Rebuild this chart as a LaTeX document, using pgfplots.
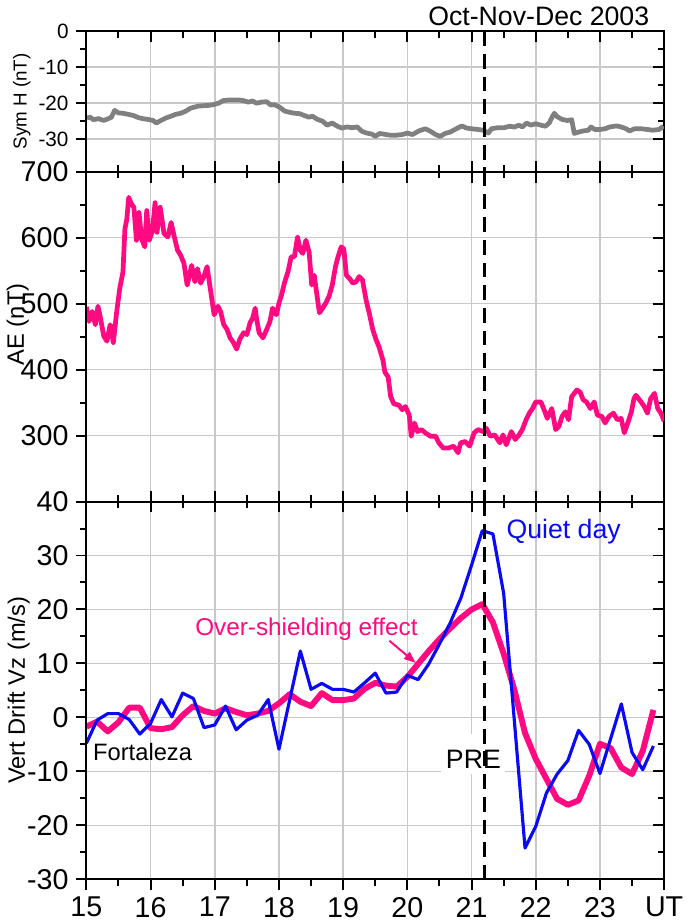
\documentclass[border=0pt]{standalone}
\usepackage{fontspec}
\setmainfont{Liberation Sans}
\usepackage{pgfplots}
\pgfplotsset{compat=1.18}
\usetikzlibrary{arrows.meta}
\definecolor{rosa}{HTML}{FF0A80}
\definecolor{azul}{HTML}{0A0AF5}
\definecolor{cinza}{HTML}{808080}
\definecolor{grade}{HTML}{C8C8C8}

\pgfplotsset{
  painel/.style={
    width=292.5pt, scale only axis,
    xmin=15, xmax=24, xtick={15,...,24}, minor x tick num=1,
    minor y tick num=1,
    axis line style={line width=1pt},
    tick style={black, line width=1pt},
    major tick length=5.5pt, minor tick length=3.3pt,
    /pgf/number format/assume math mode=true,
    tick label style={font=\fontsize{14.5}{16}\selectfont},
    clip mode=individual,
  },
  caixa/.style={painel, grid=major,
    major grid style={draw=grade, line width=0.8pt},
    tick align=inside, ytick pos=right, yticklabels={}, xticklabels={}},
  esquerda/.style={painel, tick align=outside, axis y line*=left},
}

\begin{document}
\begin{tikzpicture}
% Sym H
\begin{axis}[caixa, at={(0,358.25pt)}, height=71.15pt,
    ymin=-39, ymax=0, ytick={-30,-20,-10,0}]
\addplot[cinza, line width=2.4pt, line join=round] coordinates {
(15.01,-24.1) (15.06,-23.9) (15.11,-24.6) (15.19,-24.3) (15.27,-24.8) (15.34,-24.3) (15.39,-23.9) (15.44,-22.0) (15.50,-22.7) (15.57,-22.8) (15.65,-23.1) (15.73,-23.4) (15.81,-24.0) (15.88,-24.3) (15.96,-24.5) (16.04,-24.8) (16.09,-25.5) (16.16,-24.8) (16.24,-24.1) (16.32,-23.6) (16.39,-23.1) (16.47,-22.8) (16.55,-22.2) (16.62,-21.4) (16.68,-21.1) (16.75,-20.8) (16.83,-20.7) (16.91,-20.6) (16.98,-20.4) (17.06,-20.0) (17.13,-19.3) (17.22,-19.1) (17.29,-19.1) (17.37,-19.1) (17.45,-19.3) (17.52,-19.7) (17.59,-19.4) (17.65,-20.0) (17.73,-19.7) (17.81,-19.6) (17.87,-20.5) (17.93,-20.4) (18.01,-21.1) (18.09,-22.2) (18.16,-22.5) (18.24,-22.8) (18.32,-22.9) (18.39,-23.4) (18.47,-23.9) (18.52,-23.6) (18.60,-24.5) (18.68,-25.0) (18.75,-26.1) (18.83,-25.5) (18.91,-26.4) (18.98,-26.9) (19.06,-26.6) (19.14,-26.8) (19.22,-26.6) (19.29,-27.8) (19.37,-28.3) (19.45,-28.6) (19.50,-29.2) (19.57,-28.4) (19.67,-28.7) (19.74,-28.9) (19.82,-28.9) (19.92,-28.7) (20.00,-28.3) (20.08,-28.7) (20.18,-27.7) (20.28,-27.1) (20.36,-27.8) (20.44,-28.7) (20.51,-29.2) (20.59,-28.4) (20.67,-28.0) (20.74,-27.3) (20.85,-26.3) (20.92,-26.9) (21.00,-27.1) (21.10,-27.3) (21.18,-27.5) (21.26,-28.3) (21.31,-27.1) (21.41,-26.8) (21.51,-26.8) (21.59,-26.4) (21.67,-26.6) (21.74,-26.1) (21.79,-26.6) (21.86,-25.5) (21.92,-26.1) (22.00,-25.7) (22.08,-26.1) (22.15,-26.4) (22.21,-25.5) (22.26,-23.7) (22.29,-22.8) (22.33,-23.7) (22.41,-24.5) (22.49,-24.8) (22.56,-24.6) (22.60,-28.4) (22.67,-28.0) (22.74,-27.7) (22.82,-27.5) (22.86,-26.6) (22.92,-27.3) (23.00,-27.3) (23.08,-27.1) (23.15,-26.6) (23.26,-26.3) (23.33,-26.6) (23.41,-27.1) (23.46,-27.7) (23.54,-27.1) (23.64,-27.1) (23.74,-27.3) (23.82,-27.5) (23.92,-27.3) (23.99,-26.4)};
\addplot[black, line width=1.3pt, dash pattern=on 7.5pt off 4pt] coordinates {(21.2,0) (21.2,-39)};
\node[anchor=base, font=\fontsize{13.5}{16}\selectfont] at (rel axis cs:0.783,1) [yshift=3pt] {Oct-Nov-Dec 2003};
\end{axis}
\begin{axis}[esquerda, at={(0,358.25pt)}, height=71.15pt, axis x line=none,
    ymin=-39, ymax=0, ytick={-30,-20,-10,0},
    tick label style={font=\fontsize{10.5}{12}\selectfont},
    ylabel={Sym H (nT)},
    ylabel style={at={(rel axis cs:-0.112,0.5)}, anchor=center, font=\fontsize{9.5}{11}\selectfont}]
\end{axis}

% AE
\begin{axis}[caixa, at={(0,191.25pt)}, height=167pt,
    ymin=200, ymax=700, ytick={300,400,500,600,700}]
\addplot[rosa, line width=2.4pt, line join=round] coordinates {
(15.00,495) (15.04,473) (15.09,488) (15.14,468) (15.18,496) (15.22,478) (15.27,451) (15.32,443) (15.37,468) (15.42,441) (15.47,486) (15.52,523) (15.57,548) (15.60,613) (15.63,628) (15.66,661) (15.70,651) (15.74,646) (15.78,596) (15.82,638) (15.86,598) (15.91,586) (15.94,641) (15.98,596) (16.03,611) (16.07,653) (16.10,608) (16.15,646) (16.21,606) (16.27,601) (16.32,623) (16.37,601) (16.42,581) (16.47,573) (16.52,561) (16.57,528) (16.64,558) (16.69,533) (16.73,553) (16.78,531) (16.83,541) (16.88,556) (16.93,523) (16.99,483) (17.05,496) (17.09,488) (17.14,468) (17.19,461) (17.24,448) (17.29,441) (17.34,431) (17.39,446) (17.45,456) (17.50,453) (17.55,471) (17.59,478) (17.63,493) (17.65,478) (17.69,456) (17.75,448) (17.81,461) (17.86,473) (17.90,493) (17.96,483) (18.00,501) (18.04,513) (18.09,533) (18.14,548) (18.19,571) (18.24,571) (18.29,601) (18.33,581) (18.37,576) (18.42,596) (18.47,578) (18.51,528) (18.55,543) (18.58,521) (18.63,486) (18.68,493) (18.73,501) (18.78,511) (18.83,528) (18.88,556) (18.92,571) (18.97,586) (19.01,583) (19.05,543) (19.10,538) (19.15,531) (19.20,533) (19.25,541) (19.30,536)
(19.36,504) (19.41,484) (19.46,461) (19.51,446) (19.56,434) (19.62,414) (19.65,396) (19.70,389) (19.74,359) (19.79,348) (19.87,346) (19.92,339) (19.97,344) (20.03,331) (20.06,299) (20.11,319) (20.16,306) (20.22,309) (20.28,304) (20.36,299) (20.44,299) (20.49,289) (20.56,281) (20.64,281) (20.72,284) (20.79,274) (20.83,289) (20.90,291) (20.97,284) (21.04,304) (21.10,309) (21.18,306) (21.23,311) (21.29,299) (21.36,301) (21.44,289) (21.49,301) (21.54,286) (21.62,306) (21.68,294) (21.74,301) (21.79,309) (21.85,324) (21.90,334) (21.95,341) (22.00,351) (22.08,351) (22.13,339) (22.18,326) (22.25,341) (22.31,309) (22.36,314) (22.41,329) (22.46,336) (22.51,324) (22.56,359) (22.64,369) (22.69,366) (22.74,354) (22.79,351) (22.85,341) (22.91,351) (22.96,331) (23.03,329) (23.08,319) (23.14,329) (23.21,334) (23.27,324) (23.33,326) (23.38,304) (23.44,321) (23.49,336) (23.53,356) (23.56,361) (23.64,351) (23.69,344) (23.74,334) (23.79,356) (23.85,364) (23.90,341) (23.95,334) (24.00,322)};
\addplot[black, line width=1.3pt, dash pattern=on 7.5pt off 4pt] coordinates {(21.2,700) (21.2,200)};
\end{axis}
\begin{axis}[esquerda, at={(0,191.25pt)}, height=167pt, axis x line=none,
    ymin=200, ymax=700, ytick={300,400,500,600,700},
    ylabel={AE (nT)},
    ylabel style={at={(rel axis cs:-0.119,0.537)}, anchor=center, font=\fontsize{12}{14}\selectfont}]
\end{axis}

% Vz
\begin{axis}[caixa, at={(0,0)}, height=191.25pt, xtick pos=right,
    ymin=-30, ymax=40, ytick={-30,-20,...,40}]
\node[fill=white, inner xsep=2.3pt, inner ysep=0pt, text height=17.7pt, text depth=2.7pt,
      anchor=base west, font=\fontsize{13.5}{16}\selectfont] at (axis cs:20.525,-9.5) {PRE};
\node[anchor=base west, inner sep=0pt, font=\fontsize{12}{14}\selectfont] at (axis cs:15.10,-8.06) {Fortaleza};
\addplot[rosa, line width=3pt, line join=round] coordinates {
(15.0,-1.7) (15.167,-0.8) (15.333,-2.6) (15.5,-0.9) (15.667,1.8) (15.833,1.8) (16.0,-2.0) (16.167,-2.2) (16.333,-1.8) (16.5,0.4) (16.667,2.1) (16.833,1.2) (17.0,0.7) (17.167,1.7) (17.333,1.0) (17.5,0.4) (17.667,0.7) (17.833,1.2) (18.0,2.6) (18.167,4.3) (18.333,2.9) (18.5,2.1) (18.667,4.5) (18.833,3.2) (19.0,3.2) (19.167,3.5) (19.333,5.3) (19.5,6.4) (19.667,5.9) (19.833,5.7) (20.0,7.5) (20.167,9.9) (20.333,12.3) (20.5,14.5) (20.667,16.5) (20.833,18.4) (21.0,20.0) (21.167,21.0) (21.333,17.6) (21.5,11.8) (21.667,5.1) (21.833,-2.9) (22.0,-7.7) (22.167,-11.4) (22.333,-15.1) (22.5,-16.2) (22.667,-15.4) (22.833,-10.8) (23.0,-4.9) (23.167,-5.7) (23.333,-9.3) (23.5,-10.5) (23.667,-6.2) (23.833,1.4)};
\addplot[azul, line width=1.6pt, line join=round] coordinates {
(15.0,-4.8) (15.167,-0.5) (15.333,0.7) (15.5,0.7) (15.667,-0.4) (15.833,-3.1) (16.0,-1.1) (16.167,3.3) (16.333,0.1) (16.5,4.5) (16.667,3.5) (16.833,-1.9) (17.0,-1.4) (17.167,2.1) (17.333,-2.3) (17.5,-0.5) (17.667,0.4) (17.833,3.3) (18.0,-5.9) (18.333,12.3) (18.5,5.2) (18.667,6.3) (18.833,5.2) (19.0,5.2) (19.167,4.7) (19.333,6.4) (19.5,8.2) (19.667,4.5) (19.833,4.7) (20.0,7.8) (20.167,7.0) (20.333,9.9) (20.5,13.6) (20.667,17.5) (20.833,22.1) (21.0,28.2) (21.167,34.6) (21.333,34.0) (21.5,23.0) (21.833,-24.2) (22.0,-20.2) (22.167,-14.0) (22.333,-10.5) (22.5,-8.0) (22.667,-2.4) (22.833,-5.0) (23.0,-10.4) (23.333,2.5) (23.5,-6.5) (23.667,-9.7) (23.833,-5.3)};
\addplot[black, line width=1.3pt, dash pattern=on 7.5pt off 4pt] coordinates {(21.2,40) (21.2,-30)};
\node[anchor=base west, inner sep=0pt, text=azul, font=\fontsize{13.5}{16}\selectfont] at (axis cs:21.54,33.2) {Quiet day};
\node[anchor=base west, inner sep=0pt, text=rosa, font=\fontsize{12.3}{14}\selectfont] at (axis cs:16.69,15.1) {Over-shielding effect};
\draw[rosa, line width=1pt, -{Triangle[length=6pt, width=4.5pt]}] (axis cs:19.72,14.2) -- (axis cs:20.13,10.1);
\end{axis}
\begin{axis}[esquerda, at={(0,0)}, height=191.25pt, axis x line*=bottom,
    ymin=-30, ymax=40, ytick={-30,-20,...,40},
    xticklabels={15,16,17,18,19,20,21,22,23,UT},
    ylabel={Vert Drift Vz (m/s)},
    ylabel style={at={(rel axis cs:-0.117,0.5)}, anchor=center, font=\fontsize{12}{14}\selectfont}]
\end{axis}
\end{tikzpicture}
\end{document}
